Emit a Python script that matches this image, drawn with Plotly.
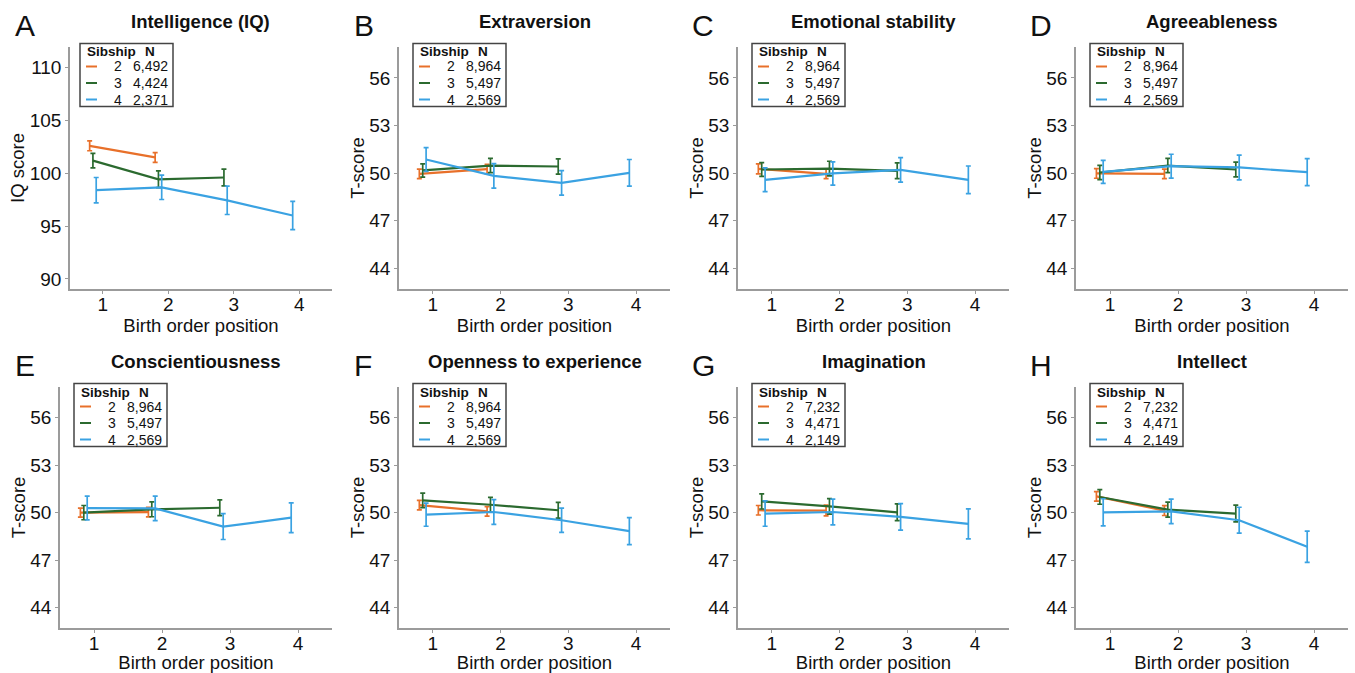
import plotly.graph_objects as go

# ---------------- data ----------------
panel_letters = ["A", "B", "C", "D", "E", "F", "G", "H"]
panel_titles = ["Intelligence (IQ)", "Extraversion", "Emotional stability", "Agreeableness",
                "Conscientiousness", "Openness to experience", "Imagination", "Intellect"]
y_titles = ["IQ score", "T-score", "T-score", "T-score", "T-score", "T-score", "T-score", "T-score"]
x_title = "Birth order position"
sibships = ["2", "3", "4"]
birth_order_sib2 = [1, 2]
birth_order_sib3 = [1, 2, 3]
birth_order_sib4 = [1, 2, 3, 4]

n_sib2 = ["6,492", "8,964", "8,964", "8,964", "8,964", "8,964", "7,232", "7,232"]
n_sib3 = ["4,424", "5,497", "5,497", "5,497", "5,497", "5,497", "4,471", "4,471"]
n_sib4 = ["2,371", "2,569", "2,569", "2,569", "2,569", "2,569", "2,149", "2,149"]

mean_sib2 = [[102.6, 101.5], [49.96, 50.25], [50.27, 49.96], [49.98, 49.96],
             [50.0, 50.03], [50.48, 50.08], [50.15, 50.13], [51.03, 50.13]]
ci_sib2 = [[0.47, 0.46], [0.3, 0.3], [0.31, 0.31], [0.3, 0.3],
           [0.28, 0.3], [0.3, 0.3], [0.3, 0.34], [0.3, 0.31]]
mean_sib3 = [[101.2, 99.43, 99.6], [50.17, 50.48, 50.42], [50.23, 50.29, 50.15], [50.04, 50.48, 50.23],
             [50.0, 50.21, 50.31], [50.78, 50.5, 50.15], [50.71, 50.4, 50.02], [50.99, 50.19, 49.94]]
ci_sib3 = [[0.68, 0.79, 0.8], [0.42, 0.45, 0.48], [0.43, 0.46, 0.5], [0.45, 0.45, 0.47],
           [0.45, 0.47, 0.5], [0.46, 0.47, 0.5], [0.48, 0.49, 0.53], [0.46, 0.47, 0.53]]
mean_sib4 = [[98.4, 98.67, 97.44, 96.0], [50.86, 49.83, 49.39, 50.02], [49.58, 49.98, 50.21, 49.58],
             [50.08, 50.44, 50.36, 50.06], [50.29, 50.27, 49.12, 49.68], [49.87, 50.04, 49.52, 48.83],
             [49.94, 50.04, 49.73, 49.29], [50.02, 50.08, 49.52, 47.84]]
ci_sib4 = [[1.2, 1.15, 1.34, 1.34], [0.75, 0.77, 0.77, 0.84], [0.75, 0.73, 0.77, 0.87],
           [0.73, 0.75, 0.78, 0.85], [0.75, 0.77, 0.82, 0.94], [0.73, 0.78, 0.77, 0.86],
           [0.8, 0.82, 0.84, 0.95], [0.86, 0.77, 0.82, 0.99]]

iq_ticks = [90, 95, 100, 105, 110]
t_ticks = [44, 47, 50, 53, 56]
x_ticks = [1, 2, 3, 4]

# ---------------- style ----------------
W, H = 1355, 673
colors = ["#E8702A", "#2B6A2F", "#3AA2E2"]
dodge = [-0.2, -0.15, -0.1]
axis_gray = "#9b9b9b"
FONT = "Liberation Sans, Arial, sans-serif"
TXT = "#111111"

# pixel geometry of each panel in page coordinates
col_right = [332, 670, 1009, 1348]
row_top = [47, 387]
row_bottom = [289, 628]
left_px = [70, 399, 738, 1076, 60, 399, 738, 1076]


def px(xp):
    return xp / W


def py(yp):
    return 1 - yp / H


fig = go.Figure()
layout = dict(
    width=W, height=H, margin=dict(l=0, r=0, t=0, b=0),
    paper_bgcolor="white", plot_bgcolor="white", showlegend=False,
    font=dict(family=FONT, color=TXT),
)
annotations = []
shapes = []

xs_all = [birth_order_sib2, birth_order_sib3, birth_order_sib4]
means_all = [mean_sib2, mean_sib3, mean_sib4]
cis_all = [ci_sib2, ci_sib3, ci_sib4]
ns_all = [n_sib2, n_sib3, n_sib4]

for i in range(8):
    r, c = divmod(i, 4)
    k = "" if i == 0 else str(i + 1)
    left = left_px[i]
    right = col_right[c]
    top, bottom = row_top[r], row_bottom[r]
    for s in range(3):
        fig.add_trace(go.Scatter(
            x=[v + dodge[s] for v in xs_all[s]],
            y=means_all[s][i],
            mode="lines",
            line=dict(color=colors[s], width=2.2),
            error_y=dict(type="data", array=cis_all[s][i], visible=True,
                         color=colors[s], thickness=1.7, width=2.5),
            xaxis="x" + k, yaxis="y" + k, name=sibships[s],
        ))
    is_iq = i == 0
    layout["xaxis" + k] = dict(
        domain=[px(left), px(right)], anchor="y" + k, range=[0.5, 4.5],
        tickvals=x_ticks, showline=True, linecolor=axis_gray, linewidth=1.5,
        ticks="outside", ticklen=3, tickcolor=axis_gray, tickwidth=1.2,
        ticklabelstandoff=-6,
        tickfont=dict(size=19, color=TXT), showgrid=False, zeroline=False,
        title=dict(text=x_title, font=dict(size=18.5, color=TXT), standoff=2),
    )
    layout["yaxis" + k] = dict(
        domain=[py(bottom), py(top)], anchor="x" + k,
        range=[89.05, 111.95] if is_iq else [42.7, 57.95],
        tickvals=iq_ticks if is_iq else t_ticks,
        showline=True, linecolor=axis_gray, linewidth=1.5,
        ticks="outside", ticklen=3, tickcolor=axis_gray, tickwidth=1.2,
        tickfont=dict(size=19, color=TXT), showgrid=False, zeroline=False,
        title=dict(text=y_titles[i], font=dict(size=18.5, color=TXT), standoff=0),
    )
    # panel letter
    letter_x = [13, 352, 690, 1028][c]
    letter_y = [26, 366][r]
    annotations.append(dict(text=panel_letters[i], x=px(letter_x), y=py(letter_y),
                            xref="paper", yref="paper", xanchor="left", yanchor="middle",
                            showarrow=False, font=dict(size=30, color=TXT)))
    # panel title
    title_y = [21, 361][r]
    annotations.append(dict(text="<b>" + panel_titles[i] + "</b>", x=px((left + right) / 2),
                            y=py(title_y), xref="paper", yref="paper", xanchor="center",
                            yanchor="middle", showarrow=False,
                            font=dict(size=18.5, color=TXT)))
    # legend box
    bl = left + (10 if i == 0 else 14)
    bt = top - 3.5
    shapes.append(dict(type="rect", xref="paper", yref="paper",
                       x0=px(bl), x1=px(bl + 93), y0=py(bt), y1=py(bt + 63),
                       line=dict(color="#444444", width=1.5), fillcolor="white", layer="above"))
    annotations.append(dict(text="<b>Sibship</b>", x=px(bl + 5), y=py(bt + 8.5),
                            xref="paper", yref="paper", xanchor="left", yanchor="middle",
                            showarrow=False, font=dict(size=13.5, color=TXT)))
    annotations.append(dict(text="<b>N</b>", x=px(bl + 70), y=py(bt + 8.5),
                            xref="paper", yref="paper", xanchor="center", yanchor="middle",
                            showarrow=False, font=dict(size=13.5, color=TXT)))
    for s in range(3):
        ry = bt + 23 + 16.5 * s
        shapes.append(dict(type="line", xref="paper", yref="paper",
                           x0=px(bl + 6), x1=px(bl + 17), y0=py(ry), y1=py(ry),
                           line=dict(color=colors[s], width=2), layer="above"))
        annotations.append(dict(text=sibships[s], x=px(bl + 38), y=py(ry),
                                xref="paper", yref="paper", xanchor="center", yanchor="middle",
                                showarrow=False, font=dict(size=14, color=TXT)))
        annotations.append(dict(text=ns_all[s][i], x=px(bl + 90), y=py(ry),
                                xref="paper", yref="paper", xanchor="right", yanchor="middle",
                                showarrow=False, font=dict(size=14, color=TXT)))

layout["annotations"] = annotations
layout["shapes"] = shapes
fig.update_layout(**layout)
fig.write_html("out.html", config={"displayModeBar": False},
               post_script="document.body.style.margin='0';document.body.style.overflow='hidden';")
